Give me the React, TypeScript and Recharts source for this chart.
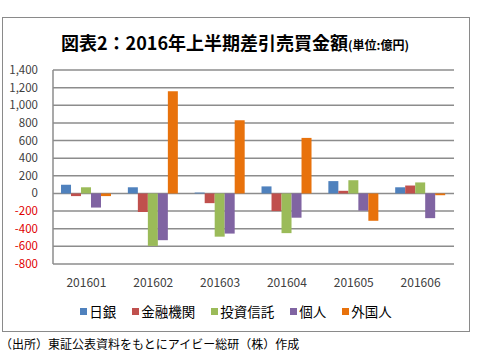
import React from 'react';
import { BarChart, Bar, XAxis, YAxis, CartesianGrid } from 'recharts';

const MONTHS = ['201601', '201602', '201603', '201604', '201605', '201606'];
const NICHIGIN = [100, 70, 10, 80, 140, 70];
const KINYU = [-30, -210, -110, -200, 30, 90];
const TOSHIN = [70, -595, -490, -450, 150, 125];
const KOJIN = [-160, -530, -455, -275, -195, -280];
const GAIKOKU = [-30, 1160, 830, 630, -310, -20];
const Y_TICKS = [-800, -600, -400, -200, 0, 200, 400, 600, 800, 1000, 1200, 1400];

const SERIES = [
  { key: 'nichigin', name: '日銀', color: '#4F81BD', values: NICHIGIN },
  { key: 'kinyu', name: '金融機関', color: '#C0504D', values: KINYU },
  { key: 'toshin', name: '投資信託', color: '#9BBB59', values: TOSHIN },
  { key: 'kojin', name: '個人', color: '#8064A2', values: KOJIN },
  { key: 'gaikoku', name: '外国人', color: '#E8720C', values: GAIKOKU },
];

const data = MONTHS.map((m, i) => {
  const row: any = { month: m };
  SERIES.forEach(s => { row[s.key] = s.values[i]; });
  return row;
});

const FONT = '"Noto Sans CJK JP", "Noto Sans", sans-serif';

const YTick = ({ x, y, payload }: any) => {
  const v = payload.value as number;
  return (
    <text x={x - 7} y={y} dy={4} textAnchor="end" fontSize={11.5} fontFamily={FONT}
      fill={v < 0 ? '#E00000' : '#404040'}>
      {v.toLocaleString('en-US')}
    </text>
  );
};

const XTick = ({ x, y, payload }: any) => (
  <text x={x} y={y + 15} textAnchor="middle" fontSize={12} fontFamily={FONT} fill="#404040">
    {payload.value}
  </text>
);

const App: React.FC = () => {
  return (
    <div style={{ position: 'absolute', left: 0, top: 0, width: 479, height: 353, background: '#fff', fontFamily: FONT }}>
      <div style={{ position: 'absolute', left: 2, top: 17, width: 466, height: 313, border: '1px solid #8a8a8a' }} />
      <div style={{ position: 'absolute', left: 0, top: 30, width: 470, textAlign: 'center', fontWeight: 'bold', fontSize: 18, lineHeight: '24px', color: '#000' }}>
        図表2：2016年上半期差引売買金額<span style={{ fontSize: 12 }}>(単位:億円)</span>
      </div>
      <div style={{ position: 'absolute', left: 0, top: 0 }}>
        <BarChart width={479} height={353} data={data}
          margin={{ top: 70, right: 25, bottom: 69, left: 0 }}
          barCategoryGap="12%" barGap={0}>
          <CartesianGrid vertical={false} stroke="#8c8c8c" strokeWidth={1.5} />
          <XAxis dataKey="month" axisLine={false} tickLine={false} height={20} tick={<XTick />} />
          <YAxis width={53} domain={[-800, 1400]} ticks={Y_TICKS} interval={0}
            axisLine={{ stroke: '#8c8c8c', strokeWidth: 1.5 }} tickLine={false} tick={<YTick />} />
          {SERIES.map(s => (
            <Bar key={s.key} dataKey={s.key} name={s.name} fill={s.color} isAnimationActive={false} />
          ))}
        </BarChart>
      </div>
      <div style={{ position: 'absolute', left: 0, top: 302, width: 472, display: 'flex', justifyContent: 'center', gap: 16, fontSize: 13.5, lineHeight: '18px', color: '#000' }}>
        {SERIES.map(s => (
          <div key={s.key} style={{ display: 'flex', alignItems: 'center' }}>
            <span style={{ display: 'inline-block', width: 7, height: 7, background: s.color, marginRight: 2 }} />
            {s.name}
          </div>
        ))}
      </div>
      <div style={{ position: 'absolute', left: 0, top: 335, fontSize: 12, lineHeight: '17px', color: '#000', whiteSpace: 'nowrap' }}>
        （出所）東証公表資料をもとにアイビー総研（株）作成
      </div>
    </div>
  );
};

export default App;
